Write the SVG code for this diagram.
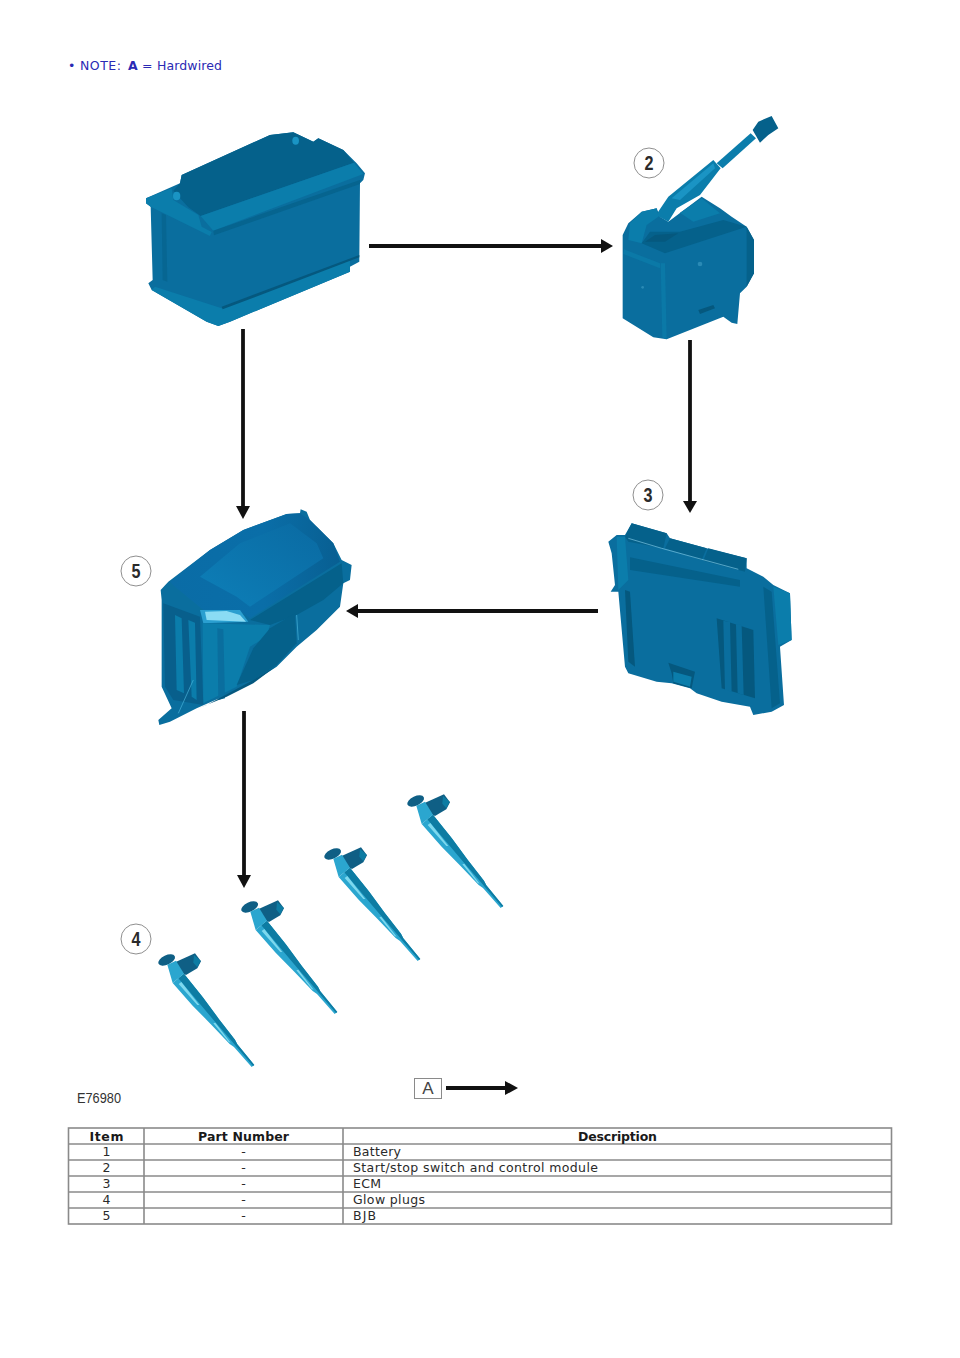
<svg xmlns="http://www.w3.org/2000/svg" xmlns:xlink="http://www.w3.org/1999/xlink" width="960" height="1358" viewBox="0 0 960 1358">
<style>
text{font-family:"DejaVu Sans",Verdana,sans-serif;font-size:12.5px;fill:#2a2a2a}
.h{font-weight:700;text-anchor:middle;fill:#1a1a1a}
.c{text-anchor:middle}
.n{fill:#2a2ab4;font-size:12.5px}
.grid{fill:none;stroke:#8a8a8a;stroke-width:1.6}
.ar{stroke:#111;stroke-width:3.8;fill:none}
.hd{fill:#111}
.co{fill:#fff;stroke:#8f8f8f;stroke-width:1}
.cn{font-family:"Liberation Sans",Arial,sans-serif;font-weight:700;font-size:20px;text-anchor:middle;fill:#2a2a2a}
.b{fill:#0a6e9e}.d{fill:#05618b}.l{fill:#0b7dab}.x{fill:#05587e}.y{fill:#1a94c4}
.p1{fill:#2ba6cf}.p2{fill:#0d7ca3}.p3{fill:#0f5f85}.p4{fill:#7dd8ee}
</style>
<defs>
<linearGradient id="bjbTop" x1="0" y1="0" x2="1" y2="0">
<stop offset="0" stop-color="#0a6ca6"/><stop offset=".55" stop-color="#0a6ea8"/><stop offset="1" stop-color="#085f92"/>
</linearGradient>
<linearGradient id="bjbGlow" x1="0" y1="1" x2="1" y2="0">
<stop offset="0" stop-color="#0d7fb8"/><stop offset="1" stop-color="#0a6aa2"/>
</linearGradient>
<g id="plug">
<path class="p1" d="M222 251L278 321L326 386L375 449L382 463L433 525L425 531L372 471L359 462L304 404L248 347L188 279Z"/>
<path class="p2" d="M222 251L278 321L326 386L375 449L382 463L433 525L429 528L377 467L367 455L315 395L263 334L205 265Z"/>
<path class="p4" d="M206 282L214 276L268 345L262 345ZM310 400L316 398L362 458L356 456Z"/>
<path class="p3" d="M192 218L255 190L273 214L262 235L228 255L200 240Z"/>
<path class="p2" d="M252 195L272 212L262 232L250 218Z"/>
<ellipse class="p3" cx="170" cy="210" rx="27" ry="14" transform="rotate(-25 170 210)"/>
<path class="p1" d="M172 224L198 212L222 251L188 279Z"/>
</g>
</defs>

<text x="68" y="70" class="n">•</text>
<text x="80" y="70" class="n" textLength="41" lengthAdjust="spacing">NOTE:</text>
<text x="128" y="70" class="n" style="font-weight:700">A</text>
<text x="142" y="70" class="n">=</text>
<text x="157" y="70" class="n" textLength="65" lengthAdjust="spacing">Hardwired</text>

<g id="battery-1" transform="translate(130 100) scale(.3333)">
<path class="b" d="M48 295L150 250L155 225L420 105L490 97L550 125L565 115L640 150L680 190L705 220L700 240L690 250L688 485L660 500L660 515L300 665L265 678L230 665L65 570L55 550L68 540L62 320L48 310Z"/>
<path class="d" d="M130 272L150 250L155 225L420 105L490 97L550 125L565 115L640 150L672 188L212 348L175 322Z"/>
<path class="l" d="M212 348L672 188L700 222L250 392Z"/>
<path class="l" d="M48 295L125 265L130 300L205 345L215 380L245 396L240 408L62 320L48 310Z"/>
<ellipse class="y" cx="140" cy="288" rx="11" ry="13"/>
<ellipse class="y" cx="497" cy="122" rx="10" ry="12"/>
<path class="d" d="M250 392L690 240L690 252L252 406Z" opacity=".8"/>
<path class="d" d="M95 340L108 345L112 545L98 540Z" opacity=".6"/>
<path class="l" d="M75 560L275 625L660 480L660 515L300 665L265 678L230 665L65 570Z"/>
<path class="x" d="M275 620L688 465L688 472L278 628Z"/>
</g>

<g id="module-2" transform="translate(600 100) scale(.3333)">
<path class="l" d="M350 190L452 100L468 115L368 205Z"/>
<path class="d" d="M458 90L475 65L515 48L535 85L505 105L480 128Z"/>
<path class="b" d="M68 405L85 370L125 335L170 325L180 350L205 365L305 290L360 325L395 350L440 380L462 420L462 520L440 560L420 580L412 672L395 668L370 650L200 718L160 712L68 655Z"/>
<path class="l" d="M168 345L205 290L340 180L362 205L300 285L230 325L205 365Z"/>
<path class="y" d="M215 295L340 190L345 205L240 300Z"/>
<path class="l" d="M85 420L90 370L125 335L170 325L175 350L140 375L125 430Z"/>
<path class="d" d="M125 430L150 395L240 395L370 360L440 380L195 460Z"/>
<path class="x" d="M135 425L165 405L235 400L195 425Z"/>
<path class="l" d="M240 338L305 295L360 340L280 365Z"/>
<path class="d" d="M440 380L462 420L462 520L440 560Z"/>
<path class="l" d="M182 490L195 490L200 718L187 712Z" opacity=".7"/>
<path class="l" d="M70 462L180 505L180 490L72 448Z" opacity=".7"/>
<circle cx="300" cy="492" r="7" fill="#2a8ab5"/><circle cx="128" cy="562" r="4" fill="#2a8ab5"/>
<path class="x" d="M295 630L340 615L345 625L300 642Z"/>
</g>

<g id="ecm-3" transform="translate(590 470) scale(.3333)">
<path class="b" d="M55 215L80 195L105 195L125 160L230 190L240 205L350 235L470 265L470 295L520 320L550 345L600 370L605 510L570 530L582 705L545 725L490 735L480 710L395 695L320 670L300 655L245 640L200 635L115 610L105 590L85 365L62 365L75 345L65 250Z"/>
<path class="d" d="M105 200L125 160L230 190L220 235L115 215Z"/>
<path class="d" d="M225 235L240 205L350 235L335 270Z"/>
<path class="d" d="M340 272L355 235L470 265L465 305Z"/>
<path d="M115 205L215 235L335 268L445 298" stroke="#7fc9e6" stroke-width="2" fill="none"/>
<path class="l" d="M80 200L105 200L115 330L85 360Z"/>
<path class="d" d="M120 262L450 330L450 350L120 300Z"/>
<path class="x" d="M380 445L490 480L495 685L395 655Z"/>
<path class="b" d="M400 452L420 456L425 665L405 660ZM438 462L455 466L461 675L443 670Z"/>
<path class="x" d="M105 360L120 365L135 590L115 575Z"/>
<path class="x" d="M235 578L315 605L305 655L250 640L245 610Z"/>
<path class="l" d="M250 605L305 620L300 650L250 635Z"/>
<path class="l" d="M550 350L600 370L605 510L565 525Z"/>
<path class="d" d="M520 350L545 365L570 700L545 715Z"/>
</g>

<g id="bjb-5" transform="translate(110 500) scale(.3333)">
<path class="b" d="M152 270L175 245L300 150L400 90L530 42L570 40L572 28L590 35L600 60L670 130L695 180L725 195L720 240L700 250L690 320L620 390L560 440L500 500L430 545L350 585L260 625L180 665L148 675L145 660L185 625L155 560L155 300Z"/>
<path fill="url(#bjbTop)" d="M180 245L300 150L400 90L530 42L570 40L600 60L670 130L690 185L420 355L385 330L280 330L195 260Z"/>
<path fill="url(#bjbGlow)" d="M270 230L390 130L540 70L620 130L640 175L420 320L380 290Z"/>
<path fill="#2a9fd0" d="M270 330L390 330L415 365L280 370Z"/>
<path d="M285 335L350 333L390 345L408 365L290 360Z" fill="#8adcf4"/>
<path class="d" d="M420 360L695 190L700 250L640 300L560 345L480 375Z"/>
<path class="l" d="M278 370L480 375L470 410L420 440L380 560L280 610Z"/>
<path fill="#085f8c" d="M160 310L270 350L280 615L190 600L165 560Z"/>
<path class="l" d="M195 345L215 355L222 580L200 570ZM235 360L255 368L260 600L245 590Z"/>
<path class="b" d="M322 385L340 388L345 595L325 600Z"/>
<path class="d" d="M380 555L430 445L480 385L555 340L560 430L500 495L430 540Z"/>
<path class="x" d="M290 615L430 540L500 497L430 550L350 590L265 625Z"/>
<path d="M205 640L250 540" stroke="#4ab5dc" stroke-width="2" fill="none"/>
<path d="M560 345L565 420" stroke="#4ab5dc" stroke-width="2" fill="none"/>
</g>

<g id="glow-plugs-4">
<use xlink:href="#plug" href="#plug" transform="translate(110 890) scale(.3333)"/>
<use xlink:href="#plug" href="#plug" transform="translate(193 837) scale(.3333)"/>
<use xlink:href="#plug" href="#plug" transform="translate(276 784) scale(.3333)"/>
<use xlink:href="#plug" href="#plug" transform="translate(359 731) scale(.3333)"/>
</g>

<g id="connectors">
<path class="ar" d="M369 246H602"/><path class="hd" d="M601 239L613 246L601 253Z"/>
<path class="ar" d="M690 340V502"/><path class="hd" d="M683 501L690 513L697 501Z"/>
<path class="ar" d="M243 329V507"/><path class="hd" d="M236 506L243 519L250 506Z"/>
<path class="ar" d="M598 611H357"/><path class="hd" d="M358 604L346 611L358 618Z"/>
<path class="ar" d="M244 711V876"/><path class="hd" d="M237 875L244 888L251 875Z"/>
</g>

<g id="callouts">
<circle class="co" cx="649" cy="163" r="15"/><text class="cn" x="649" y="170" textLength="9" lengthAdjust="spacingAndGlyphs">2</text>
<circle class="co" cx="648" cy="495" r="15"/><text class="cn" x="648" y="502" textLength="9" lengthAdjust="spacingAndGlyphs">3</text>
<circle class="co" cx="136" cy="571" r="15"/><text class="cn" x="136" y="578" textLength="9" lengthAdjust="spacingAndGlyphs">5</text>
<circle class="co" cx="136" cy="939" r="15"/><text class="cn" x="136" y="946" textLength="9" lengthAdjust="spacingAndGlyphs">4</text>
</g>

<g id="legend">
<text x="77" y="1103" textLength="44" lengthAdjust="spacingAndGlyphs" style="font-family:'Liberation Sans',Arial,sans-serif;font-size:14px;fill:#333">E76980</text>
<rect x="414.500" y="1078.500" width="27" height="20" fill="#fff" stroke="#8a8a8a"/>
<text x="428" y="1094" style="font-family:'Liberation Sans',Arial,sans-serif;font-size:17px;fill:#444;text-anchor:middle">A</text>
<path class="ar" d="M446 1088H506"/><path class="hd" d="M505 1081L518 1088L505 1095Z"/>
</g>

<g id="table">
<rect class="grid" x="68.500" y="1128" width="823" height="96"/>
<path class="grid" d="M144 1128V1224M343 1128V1224M68 1144H892M68 1160H892M68 1176H892M68 1192H892M68 1208H892"/>
<text class="h" x="106.500" y="1140.500" textLength="34" lengthAdjust="spacing">Item</text>
<text class="h" x="243.500" y="1140.500" textLength="91" lengthAdjust="spacing">Part Number</text>
<text class="h" x="617.500" y="1140.500" textLength="79" lengthAdjust="spacing">Description</text>
<text class="c" x="106.500" y="1156">1</text><text class="c" x="243.500" y="1156">-</text><text x="353" y="1156" textLength="48" lengthAdjust="spacing">Battery</text>
<text class="c" x="106.500" y="1172">2</text><text class="c" x="243.500" y="1172">-</text><text x="353" y="1172" textLength="245" lengthAdjust="spacing">Start/stop switch and control module</text>
<text class="c" x="106.500" y="1188">3</text><text class="c" x="243.500" y="1188">-</text><text x="353" y="1188" textLength="28" lengthAdjust="spacing">ECM</text>
<text class="c" x="106.500" y="1204">4</text><text class="c" x="243.500" y="1204">-</text><text x="353" y="1204" textLength="72" lengthAdjust="spacing">Glow plugs</text>
<text class="c" x="106.500" y="1220">5</text><text class="c" x="243.500" y="1220">-</text><text x="353" y="1220" textLength="23" lengthAdjust="spacing">BJB</text>
</g>
</svg>
